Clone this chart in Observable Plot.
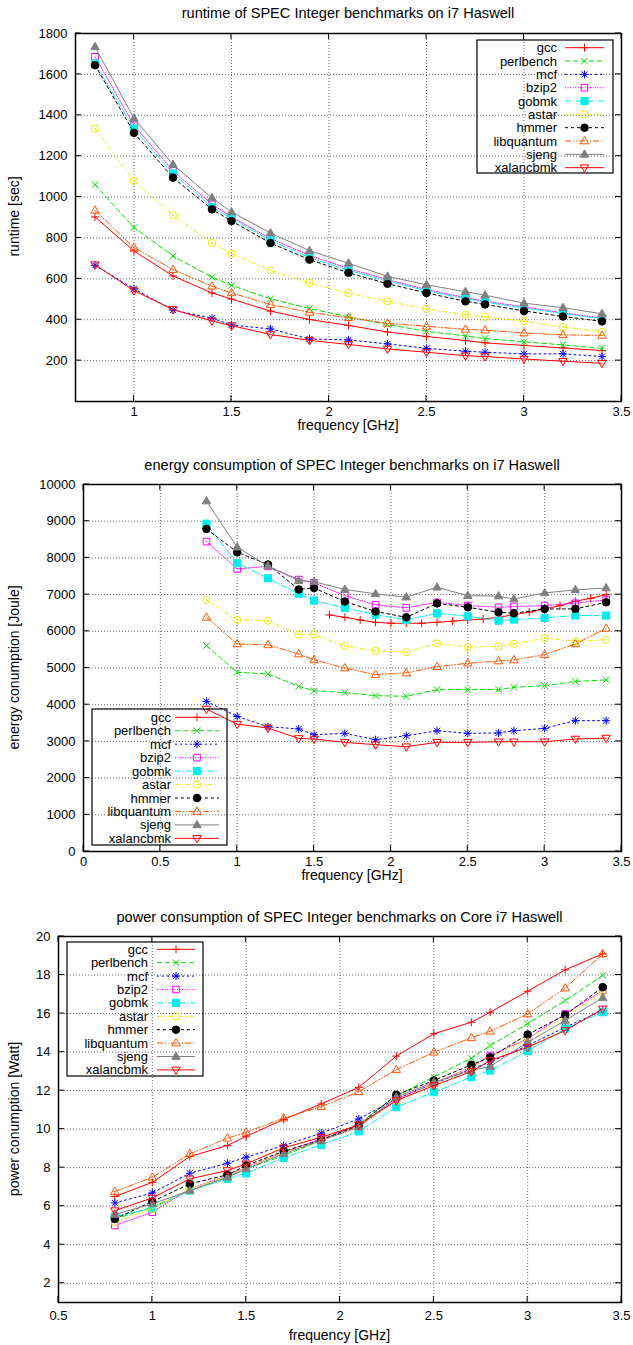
<!DOCTYPE html>
<html><head><meta charset="utf-8">
<script src="https://cdn.jsdelivr.net/npm/d3@7"></script>
<script src="https://cdn.jsdelivr.net/npm/@observablehq/plot@0.6"></script>
<style>
body{margin:0;background:#fff;}
#chart{width:633px;}
#chart svg{display:block;}
</style></head><body><div id="chart"></div>
<script>
// ---------- data ----------
const benchmarks = ["gcc","perlbench","mcf","bzip2","gobmk","astar","hmmer","libquantum","sjeng","xalancbmk"];
const freqGHz = [0.8,1.0,1.2,1.4,1.5,1.7,1.9,2.1,2.3,2.5,2.7,2.8,3.0,3.2,3.4];
const gccEnergyFreqGHz = [1.6,1.7,1.8,1.9,2.0,2.1,2.2,2.3,2.4,2.5,2.6,2.7,2.8,2.9,3.0,3.1,3.2,3.3,3.4];

const runtimeSec = [
  [903,736,614,531,501,442,401,372,340,318,298,287,274,262,249],
  [1061,851,712,608,568,502,455,414,377,343,321,308,292,277,260],
  [666,551,447,408,374,355,306,301,282,260,246,241,233,233,220],
  [1686,1351,1128,965,903,797,715,650,596,547,508,490,463,433,408],
  [1653,1335,1115,952,895,789,704,642,590,541,503,486,457,430,405],
  [1335,1079,911,776,723,641,580,530,490,453,424,414,393,364,341],
  [1645,1314,1095,940,883,775,694,630,576,531,490,475,443,416,392],
  [935,753,645,564,531,474,436,410,382,368,353,349,335,326,323],
  [1735,1385,1159,996,927,824,738,676,612,571,537,520,481,459,429],
  [669,542,450,394,371,328,299,279,257,241,224,220,208,197,187]
];
const energyJoule = [
  [6445,6380,6310,6245,6220,6220,6220,6245,6275,6310,6335,6380,6455,6520,6610,6700,6820,6900,7000],
  [5610,4880,4840,4500,4380,4330,4245,4230,4410,4410,4410,4475,4520,4635,4675],
  [4090,3680,3400,3340,3180,3220,3045,3155,3290,3220,3230,3290,3355,3565,3565],
  [8445,7700,7770,7410,7320,6970,6720,6640,6790,6700,6655,6675,6700,6765,6855],
  [8930,7855,7445,7020,6840,6640,6455,6310,6490,6410,6290,6320,6365,6430,6430],
  [6855,6310,6290,5910,5910,5600,5470,5430,5670,5565,5590,5655,5810,5730,5770],
  [8790,8155,7820,7140,7180,6810,6540,6380,6760,6655,6520,6490,6610,6610,6790],
  [6380,5655,5630,5380,5220,5000,4820,4865,5035,5130,5190,5220,5365,5655,6080],
  [9550,8290,7780,7380,7350,7140,7020,6930,7200,6970,6960,6880,7045,7130,7180],
  [3880,3470,3365,3080,3065,2975,2910,2855,2975,2975,2990,2990,2990,3065,3090]
];
const powerWatt = [
  [6.50,7.24,8.58,9.15,9.63,10.50,11.31,12.17,13.79,14.95,15.55,16.07,17.16,18.27,19.10],
  [5.34,5.95,6.81,7.50,7.94,8.63,9.41,10.27,11.74,12.70,13.68,14.34,15.47,16.68,17.98],
  [6.17,6.69,7.71,8.23,8.54,9.15,9.79,10.53,11.57,12.35,13.13,13.48,14.34,15.29,16.16],
  [5.00,5.69,6.90,7.59,8.02,8.80,9.49,10.19,11.57,12.38,13.22,13.82,14.69,15.98,17.20],
  [5.46,5.89,6.81,7.42,7.71,8.51,9.18,9.88,11.14,11.92,12.70,13.04,14.05,15.21,16.07],
  [5.17,5.86,6.90,7.54,8.02,8.80,9.41,10.14,11.48,12.35,13.22,13.73,14.69,15.81,17.11],
  [5.34,6.24,7.16,7.63,8.11,8.85,9.44,10.19,11.78,12.52,13.34,13.73,14.91,15.93,17.37],
  [6.76,7.50,8.72,9.53,9.84,10.57,11.17,11.94,13.09,13.99,14.74,15.08,15.98,17.32,19.10],
  [5.57,6.12,6.81,7.50,7.94,8.72,9.41,10.10,11.66,12.44,13.04,13.25,14.51,15.64,16.82],
  [5.77,6.43,7.42,7.85,8.20,9.03,9.58,10.22,11.48,12.26,12.99,13.56,14.25,15.12,16.24]
];

const titles = [
  "runtime of SPEC Integer benchmarks on i7 Haswell",
  "energy consumption of SPEC Integer benchmarks on i7 Haswell",
  "power consumption of SPEC Integer benchmarks on Core i7 Haswell"
];
const yLabels = ["runtime [sec]","energy conumption [Joule]","power conumption [Watt]"];
const xLabel = "frequency [GHz]";

const runtimeXTicks = [1,1.5,2,2.5,3,3.5];
const runtimeYTicks = [200,400,600,800,1000,1200,1400,1600,1800];
const energyXTicks = [0,0.5,1,1.5,2,2.5,3,3.5];
const energyYTicks = [0,1000,2000,3000,4000,5000,6000,7000,8000,9000,10000];
const powerXTicks = [0.5,1,1.5,2,2.5,3,3.5];
const powerYTicks = [2,4,6,8,10,12,14,16,18,20];

// ---------- styles ----------
const FONT = "'Liberation Sans', Arial, Helvetica, sans-serif";
const sq = (c,k)=>{c.moveTo(-k,-k);c.lineTo(k,-k);c.lineTo(k,k);c.lineTo(-k,k);c.closePath();};
const symbols = {
  plus:{draw(c){c.moveTo(-4,0);c.lineTo(4,0);c.moveTo(0,-4);c.lineTo(0,4);}},
  times:{draw(c){const k=3.3;c.moveTo(-k,-k);c.lineTo(k,k);c.moveTo(-k,k);c.lineTo(k,-k);}},
  asterisk:{draw(c){c.moveTo(-4,0);c.lineTo(4,0);c.moveTo(0,-4);c.lineTo(0,4);const k=3;c.moveTo(-k,-k);c.lineTo(k,k);c.moveTo(-k,k);c.lineTo(k,-k);}},
  square:{draw(c){sq(c,3.3);}},
  squareF:{draw(c){sq(c,3.6);}},
  circleDot:{draw(c){c.moveTo(3.6,0);c.arc(0,0,3.6,0,2*Math.PI);c.moveTo(0.5,0);c.arc(0,0,0.5,0,2*Math.PI);}},
  circleF:{draw(c){c.moveTo(3.8,0);c.arc(0,0,3.8,0,2*Math.PI);}},
  triangle:{draw(c){c.moveTo(0,-4.5);c.lineTo(4.2,2.8);c.lineTo(-4.2,2.8);c.closePath();}},
  triangleDown:{draw(c){c.moveTo(0,4.5);c.lineTo(4.2,-2.8);c.lineTo(-4.2,-2.8);c.closePath();}}
};
const styles = [
  {color:"#ff0000", dash:null, sym:"plus", filled:false},
  {color:"#00e000", dash:"5,3", sym:"times", filled:false},
  {color:"#0000ff", dash:"2,3", sym:"asterisk", filled:false},
  {color:"#ff00ff", dash:"1,1.5", sym:"square", filled:false},
  {color:"#00eeee", dash:"6,2,1,2", sym:"squareF", filled:true},
  {color:"#eeee00", dash:"4,3,1,3", sym:"circleDot", filled:false},
  {color:"#000000", dash:"3,3", sym:"circleF", filled:true},
  {color:"#ff5500", dash:"6,2,1,2,1,2", sym:"triangle", filled:false},
  {color:"#808080", dash:null, sym:"triangle", filled:true},
  {color:"#ff0000", dash:null, sym:"triangleDown", filled:false}
];

const panels = [
  {values:runtimeSec, xs:i=>freqGHz, xDomain:[0.7,3.5], yDomain:[0,1800], xTicks:runtimeXTicks, yTicks:runtimeYTicks,
   height:450, m:{top:33,bottom:49,left:75,right:12}, pad:5, titleY:18, xLabelY:430, yLabelCY:216.5,
   legend:{x0:477,x1:613,y0:40,y1:173,textX:557,lx0:565,lx1:604,mx:584.5,row0:47.7,dy:13.33}},
  {values:energyJoule, xs:i=>i===0?gccEnergyFreqGHz:freqGHz, xDomain:[0,3.5], yDomain:[0,10000], xTicks:energyXTicks, yTicks:energyYTicks,
   height:450, m:{top:34,bottom:49,left:83,right:12}, pad:5, titleY:20, xLabelY:430, yLabelCY:217.5,
   legend:{x0:92,x1:227,y0:259,y1:395,textX:171,lx0:175,lx1:219,mx:197,row0:267.3,dy:13.45}},
  {values:powerWatt, xs:i=>freqGHz, xDomain:[0.5,3.5], yDomain:[1,20], xTicks:powerXTicks, yTicks:powerYTicks,
   height:445, m:{top:36,bottom:43,left:58,right:12}, pad:8, titleY:22, xLabelY:440, yLabelCY:219,
   legend:{x0:67,x1:203,y0:42,y1:176,textX:148,lx0:157,lx1:195,mx:176,row0:49.3,dy:13.4}}
];

const root = document.getElementById("chart");
panels.forEach((p, pi) => {
  const inside = (t, dom) => t > dom[0] && t < dom[1];
  const marks = [
    Plot.ruleX(p.xTicks.filter(t=>inside(t,p.xDomain)), {x:d=>d, stroke:"#000", strokeOpacity:0.75, strokeWidth:0.8, strokeDasharray:"1,2"}),
    Plot.ruleY(p.yTicks.filter(t=>inside(t,p.yDomain)), {y:d=>d, stroke:"#000", strokeOpacity:0.75, strokeWidth:0.8, strokeDasharray:"1,2"})
  ];
  benchmarks.forEach((name, i) => {
    const s = styles[i];
    const xs = p.xs(i);
    const data = p.values[i].map((v, j) => ({x: xs[j], y: v}));
    marks.push(Plot.line(data, {x:"x", y:"y", stroke:s.color, strokeWidth:1, strokeDasharray:s.dash || undefined}));
    marks.push(Plot.dot(data, {x:"x", y:"y", symbol:symbols[s.sym], stroke:s.color, fill:s.filled ? s.color : "none", strokeWidth:1}));
  });
  marks.push(Plot.frame({stroke:"#000", strokeWidth:1.5}));

  const plot = Plot.plot({
    width:633, height:p.height,
    marginTop:p.m.top, marginBottom:p.m.bottom, marginLeft:p.m.left, marginRight:p.m.right,
    style:{fontFamily:FONT, fontSize:"13px", background:"#fff", color:"#000"},
    x:{domain:p.xDomain, ticks:p.xTicks, tickSize:0, tickPadding:p.pad, tickFormat:d=>String(d), label:null},
    y:{domain:p.yDomain, ticks:p.yTicks, tickSize:0, tickPadding:8, tickFormat:d=>String(d), label:null},
    marks
  });
  root.appendChild(plot);

  // decorations: inward ticks, title, axis labels, legend
  const sx = plot.scale("x"), sy = plot.scale("y");
  const X = d3.scaleLinear(sx.domain, sx.range), Y = d3.scaleLinear(sy.domain, sy.range);
  const [xa, xb] = X.range(); const yb = Y(p.yDomain[0]), yt = Y(p.yDomain[1]);
  const svg = d3.select(plot);
  const g = svg.append("g").attr("stroke","#000").attr("stroke-width",1).attr("fill","none");
  p.xTicks.forEach(t => {
    const x = X(t);
    g.append("path").attr("d", `M${x},${yb}v-6M${x},${yt}v6`);
  });
  p.yTicks.forEach(t => {
    const y = Y(t);
    g.append("path").attr("d", `M${xa},${y}h6M${xb},${y}h-6`);
  });
  const tg = svg.append("g").attr("font-family", FONT).attr("font-size", 14).attr("fill","#000");
  tg.append("text").attr("x", (xa+xb)/2).attr("y", p.titleY).attr("text-anchor","middle").attr("font-size", 14.6).text(titles[pi]);
  tg.append("text").attr("x", (xa+xb)/2).attr("y", p.xLabelY).attr("text-anchor","middle").text(xLabel);
  tg.append("text").attr("transform", `translate(18.5,${p.yLabelCY}) rotate(-90)`).attr("text-anchor","middle").text(yLabels[pi]);

  // legend (key)
  const L = p.legend;
  const lg = svg.append("g");
  lg.append("rect").attr("x", L.x0).attr("y", L.y0).attr("width", L.x1-L.x0).attr("height", L.y1-L.y0)
    .attr("fill","none").attr("stroke","#000").attr("stroke-width",1.2);
  benchmarks.forEach((name, i) => {
    const s = styles[i];
    const y = L.row0 + i*L.dy;
    lg.append("text").attr("x", L.textX).attr("y", y).attr("dy","0.35em").attr("text-anchor","end")
      .attr("font-family", FONT).attr("font-size", 13).attr("fill","#000").text(name);
    lg.append("path").attr("d", `M${L.lx0},${y}H${L.lx1}`).attr("stroke", s.color).attr("stroke-width",1)
      .attr("stroke-dasharray", s.dash || null);
    lg.append("path").attr("transform", `translate(${L.mx},${y})`).attr("d", d3.symbol(symbols[s.sym])())
      .attr("stroke", s.color).attr("stroke-width",1).attr("fill", s.filled ? s.color : "none");
  });
});
</script>
</body></html>
